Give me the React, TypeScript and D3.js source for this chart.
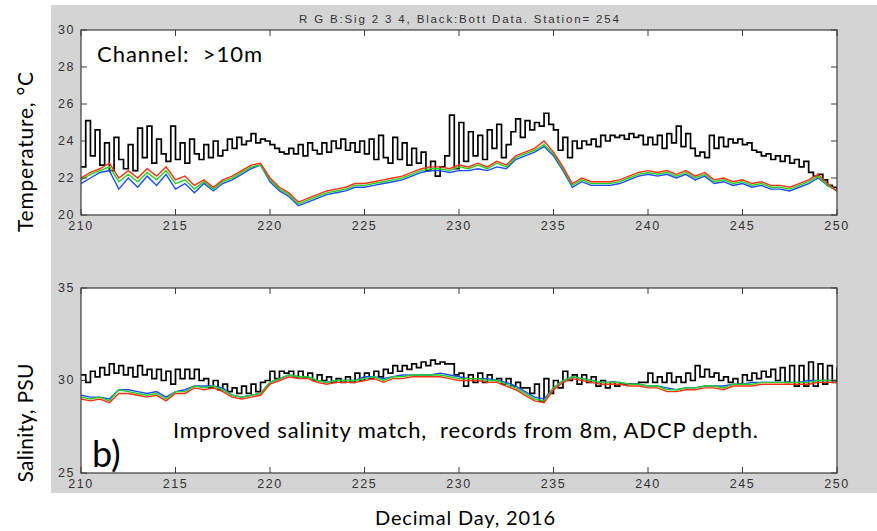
import React from 'react';
import * as d3 from 'd3';

// time axis: samples start at day 210
const START_DAY = 210;
const BLACK_STEP = 0.25; // bottom-data samples
const SIG_STEP = 0.5; // sig 2/3/4 samples

const xTicks = [210, 215, 220, 225, 230, 235, 240, 245, 250];
const tempTicks = [20, 22, 24, 26, 28, 30];
const salTicks = [25, 30, 35];

// Temperature, black (bottom data), 0.25 day
const tempBlack = [
  22.6, 25.1, 23.2, 24.6, 22.7, 23.9, 22.4, 24.2, 23.0, 22.5, 23.8, 22.4, 24.7, 23.1, 24.8, 22.8, 24.1, 23.3, 22.9, 24.8,
  23.0, 23.9, 22.8, 24.1, 23.3, 23.0, 23.8, 23.1, 24.0, 23.2, 23.5, 24.1, 23.6, 24.2, 23.8, 24.0, 24.4, 23.9, 24.1, 24.0,
  23.8, 23.6, 23.4, 23.3, 23.6, 23.3, 23.8, 23.2, 23.9, 23.5, 23.3, 23.9, 23.4, 24.0, 23.6, 24.1, 23.5, 23.9, 23.4, 24.0,
  23.3, 24.1, 23.0, 24.3, 23.1, 22.8, 24.2, 23.0, 23.9, 22.7, 23.6, 22.8, 23.4, 22.4, 22.9, 22.1, 22.6, 23.2, 25.4, 22.5,
  25.0, 22.9, 24.5, 23.2, 24.3, 23.0, 24.6, 23.6, 24.9, 23.1, 23.8, 24.5, 25.2, 24.2, 25.1, 24.6, 25.0, 24.8, 25.5, 24.9,
  24.6, 23.5, 24.2, 23.1, 24.0, 23.6, 24.0, 23.8, 24.1, 23.7, 24.3, 24.0, 24.3, 24.2, 24.3, 24.1, 24.4, 24.2, 24.3, 23.8,
  24.2, 23.8, 24.3, 23.6, 24.4, 23.9, 24.8, 23.7, 24.4, 23.6, 23.2, 23.4, 23.1, 24.3, 23.6, 24.2, 23.7, 24.1, 23.9, 24.1,
  23.8, 23.9, 23.5, 23.4, 23.2, 23.3, 23.0, 23.2, 22.9, 23.2, 22.8, 23.0, 22.6, 22.9, 22.3, 22.1, 22.2, 21.9, 21.6, 21.5,
  21.3,
];

// Temperature, sig 2 (red), 0.5 day
const tempRed = [
  22.0, 22.3, 22.5, 22.8, 22.0, 22.4, 22.0, 22.5, 22.1, 22.6,
  21.9, 22.1, 21.6, 21.9, 21.5, 21.9, 22.1, 22.4, 22.7, 22.8,
  22.0, 21.5, 21.2, 20.7, 20.9, 21.1, 21.3, 21.4, 21.5, 21.7,
  21.7, 21.8, 21.9, 22.0, 22.1, 22.3, 22.5, 22.6, 22.6, 22.5,
  22.7, 22.6, 22.8, 22.6, 22.9, 22.7, 23.2, 23.4, 23.6, 24.0,
  23.4, 22.6, 21.7, 22.0, 21.8, 21.8, 21.8, 21.9, 22.1, 22.3,
  22.4, 22.3, 22.4, 22.2, 22.4, 22.1, 22.3, 21.9, 22.0, 21.8,
  21.9, 21.7, 21.8, 21.6, 21.6, 21.5, 21.7, 21.9, 22.2, 21.7,
  21.3,
];

// Temperature, sig 3 (green)
const tempGreen = [
  21.9, 22.2, 22.4, 22.6, 21.8, 22.2, 21.8, 22.3, 21.9, 22.4,
  21.7, 21.9, 21.4, 21.8, 21.4, 21.8, 22.0, 22.3, 22.6, 22.7,
  21.9, 21.4, 21.1, 20.6, 20.8, 21.0, 21.2, 21.3, 21.4, 21.6,
  21.6, 21.7, 21.8, 21.9, 22.0, 22.2, 22.4, 22.5, 22.5, 22.4,
  22.6, 22.5, 22.7, 22.5, 22.8, 22.6, 23.1, 23.3, 23.5, 23.8,
  23.3, 22.5, 21.6, 21.9, 21.7, 21.7, 21.7, 21.8, 22.0, 22.2,
  22.3, 22.2, 22.3, 22.1, 22.3, 22.0, 22.2, 21.8, 21.9, 21.7,
  21.8, 21.6, 21.7, 21.5, 21.5, 21.4, 21.6, 21.8, 22.1, 21.6,
  21.3,
];

// Temperature, sig 4 (blue)
const tempBlue = [
  21.7, 22.0, 22.3, 22.4, 21.4, 22.0, 21.5, 22.1, 21.6, 22.2,
  21.4, 21.7, 21.2, 21.7, 21.3, 21.7, 21.9, 22.2, 22.5, 22.7,
  21.8, 21.3, 21.0, 20.5, 20.7, 20.9, 21.1, 21.2, 21.3, 21.5,
  21.5, 21.6, 21.7, 21.8, 21.9, 22.1, 22.3, 22.4, 22.4, 22.3,
  22.4, 22.4, 22.5, 22.4, 22.6, 22.5, 23.0, 23.2, 23.4, 23.7,
  23.2, 22.4, 21.5, 21.8, 21.6, 21.6, 21.6, 21.7, 21.9, 22.1,
  22.2, 22.1, 22.2, 22.0, 22.2, 21.9, 22.1, 21.7, 21.8, 21.6,
  21.7, 21.5, 21.6, 21.4, 21.4, 21.3, 21.5, 21.7, 22.0, 21.6,
  21.3,
];

// Salinity, black (bottom data), 0.25 day
const salBlack = [
  30.3, 29.9, 30.5, 30.2, 30.7, 30.3, 30.9, 30.4, 30.8, 30.3, 30.7, 30.2, 30.8, 30.3, 30.6, 30.1, 30.6, 30.0, 30.5, 29.8,
  30.6, 30.1, 30.6, 30.1, 30.6, 30.0, 30.1, 29.6, 30.0, 29.5, 29.8, 29.4, 29.6, 29.3, 29.7, 29.3, 29.8, 29.4, 29.9, 30.0,
  30.5, 30.1, 30.5, 30.4, 30.5, 30.2, 30.5, 30.2, 30.4, 30.0, 30.3, 30.0, 30.2, 29.9, 30.1, 29.9, 30.2, 29.9, 30.4, 30.0,
  30.4, 30.1, 30.5, 30.2, 30.6, 30.4, 30.8, 30.5, 30.8, 30.6, 30.9, 30.7, 31.0, 30.8, 31.1, 30.9, 31.0, 30.9, 30.9, 30.3,
  30.4, 29.7, 30.3, 29.9, 30.4, 29.9, 30.3, 30.0, 30.1, 29.8, 30.1, 29.7, 29.9, 29.6, 29.6, 29.3, 29.8, 28.9, 30.1, 29.3,
  30.0, 29.6, 30.5, 30.0, 30.3, 29.8, 30.3, 29.9, 30.2, 29.7, 30.0, 29.6, 29.9, 29.7, 29.8, 29.8, 29.8, 29.8, 29.9, 29.9,
  30.4, 29.9, 30.2, 29.9, 30.4, 29.9, 30.2, 29.9, 30.4, 30.0, 30.8, 30.2, 30.6, 30.2, 30.4, 30.0, 30.2, 29.9, 30.1, 29.8,
  30.3, 30.0, 30.4, 30.1, 30.5, 30.2, 30.6, 30.0, 30.7, 29.9, 30.8, 29.7, 30.8, 29.7, 31.0, 29.7, 30.9, 29.8, 30.8, 29.9,
  30.7,
];

const salRed = [
  29.0, 28.9, 29.0, 28.8, 29.3, 29.3, 29.2, 29.1, 29.2, 28.9,
  29.3, 29.3, 29.6, 29.5, 29.6, 29.4, 29.1, 29.0, 29.1, 29.2,
  29.8, 30.0, 30.2, 30.1, 30.1, 29.9, 29.8, 29.9, 29.9, 29.9,
  30.0, 30.1, 29.9, 30.1, 30.1, 30.2, 30.2, 30.2, 30.2, 30.1,
  30.0, 30.0, 30.0, 29.9, 29.9, 29.7, 29.5, 29.2, 28.9, 28.8,
  29.5, 29.9, 30.1, 30.0, 29.9, 29.8, 29.8, 29.8, 29.7, 29.7,
  29.6, 29.6, 29.4, 29.4, 29.5, 29.5, 29.6, 29.6, 29.5, 29.7,
  29.7, 29.7, 29.8, 29.8, 29.8, 29.8, 29.8, 29.8, 29.9, 29.9,
  29.9,
];

const salGreen = [
  29.1, 29.0, 29.1, 28.9, 29.5, 29.4, 29.3, 29.2, 29.3, 29.0,
  29.4, 29.4, 29.7, 29.6, 29.7, 29.5, 29.2, 29.1, 29.2, 29.3,
  29.9, 30.1, 30.3, 30.2, 30.2, 30.0, 29.9, 30.0, 30.0, 30.0,
  30.1, 30.2, 30.0, 30.2, 30.2, 30.3, 30.3, 30.3, 30.3, 30.2,
  30.1, 30.1, 30.1, 30.0, 30.0, 29.8, 29.6, 29.3, 29.0, 28.9,
  29.6, 30.0, 30.2, 30.1, 30.0, 29.9, 29.9, 29.9, 29.8, 29.8,
  29.7, 29.7, 29.5, 29.5, 29.6, 29.6, 29.7, 29.7, 29.6, 29.8,
  29.8, 29.8, 29.9, 29.9, 29.9, 29.9, 29.9, 29.9, 30.0, 30.0,
  30.0,
];

const salBlue = [
  29.2, 29.1, 29.1, 29.0, 29.5, 29.5, 29.4, 29.3, 29.4, 29.1,
  29.4, 29.5, 29.7, 29.7, 29.7, 29.6, 29.2, 29.1, 29.2, 29.3,
  29.9, 30.1, 30.3, 30.2, 30.2, 30.0, 29.9, 30.0, 30.0, 30.0,
  30.2, 30.2, 30.1, 30.2, 30.3, 30.3, 30.3, 30.3, 30.4, 30.3,
  30.2, 30.1, 30.1, 30.1, 30.0, 29.9, 29.7, 29.4, 29.1, 29.0,
  29.6, 30.0, 30.2, 30.1, 30.0, 29.9, 29.9, 29.9, 29.8, 29.8,
  29.7, 29.7, 29.6, 29.5, 29.6, 29.6, 29.7, 29.7, 29.7, 29.8,
  29.8, 29.9, 29.9, 29.9, 29.9, 29.9, 29.9, 30.0, 30.0, 30.0,
  30.0,
];

const W = 877;
const H = 531;
const plotLeft = 81;
const plotRight = 837;
const tickFont = '"Liberation Sans", Arial, sans-serif';
const labelFont = 'Lato, "Open Sans", sans-serif';
const axisColor = '#3c3c3c';

const x = d3.scaleLinear().domain([210, 250]).range([plotLeft, plotRight]);

type Series = { values: number[]; step: number; color: string; width: number; stairs: boolean };

function Panel({ top, bottom, domain, ticks, series }: {
  top: number; bottom: number; domain: [number, number]; ticks: number[]; series: Series[];
}) {
  const y = d3.scaleLinear().domain(domain).range([bottom, top]);
  const clipId = `clip-${top}`;
  return (
    <g>
      <defs>
        <clipPath id={clipId}>
          <rect x={plotLeft} y={top} width={plotRight - plotLeft} height={bottom - top} />
        </clipPath>
      </defs>
      <rect x={plotLeft} y={top} width={plotRight - plotLeft} height={bottom - top} fill="#fff" />
      <g clipPath={`url(#${clipId})`}>
        {series.map((s, i) => {
          const line = d3.line<number>()
            .x((_, j) => x(START_DAY + j * s.step))
            .y(v => y(v))
            .curve(s.stairs ? d3.curveStepAfter : d3.curveLinear);
          return <path key={i} d={line(s.values) || ''} fill="none" stroke={s.color} strokeWidth={s.width} />;
        })}
      </g>
      {/* frame */}
      <rect x={plotLeft} y={top} width={plotRight - plotLeft} height={bottom - top} fill="none" stroke={axisColor} strokeWidth={1.2} />
      {/* x ticks, inward top and bottom */}
      {xTicks.map(t => (
        <g key={`x${t}`}>
          <line x1={x(t)} x2={x(t)} y1={bottom} y2={bottom - 6} stroke={axisColor} />
          <line x1={x(t)} x2={x(t)} y1={top} y2={top + 6} stroke={axisColor} />
          <text x={x(t)} y={bottom + 15} textAnchor="middle" fontFamily={tickFont} fontSize={12.5}
            letterSpacing={1.6} fill="#333">{t}</text>
        </g>
      ))}
      {ticks.map(t => (
        <g key={`y${t}`}>
          <line x1={plotLeft} x2={plotLeft + 6} y1={y(t)} y2={y(t)} stroke={axisColor} />
          <line x1={plotRight} x2={plotRight - 6} y1={y(t)} y2={y(t)} stroke={axisColor} />
          <text x={plotLeft - 6} y={y(t) + 3.5} textAnchor="end" fontFamily={tickFont} fontSize={12.5}
            letterSpacing={1.6} fill="#333">{t}</text>
        </g>
      ))}
    </g>
  );
}

export default function App() {
  const tempSeries: Series[] = [
    { values: tempBlack, step: BLACK_STEP, color: '#000', width: 1.7, stairs: true },
    { values: tempBlue, step: SIG_STEP, color: '#1a4cff', width: 1.4, stairs: false },
    { values: tempGreen, step: SIG_STEP, color: '#22d422', width: 1.4, stairs: false },
    { values: tempRed, step: SIG_STEP, color: '#ff3010', width: 1.4, stairs: false },
  ];
  const salSeries: Series[] = [
    { values: salBlack, step: BLACK_STEP, color: '#000', width: 1.7, stairs: true },
    { values: salBlue, step: SIG_STEP, color: '#1a4cff', width: 1.4, stairs: false },
    { values: salGreen, step: SIG_STEP, color: '#22d422', width: 1.4, stairs: false },
    { values: salRed, step: SIG_STEP, color: '#ff3010', width: 1.4, stairs: false },
  ];

  return (
    <svg width={W} height={H} viewBox={`0 0 ${W} ${H}`}
      style={{ position: 'absolute', left: 0, top: 0, background: '#fff' }}>
      <rect x={51} y={5} width={W - 51} height={488} fill="#d4d4d4" />
      <text x={459} y={23} textAnchor="middle" fontFamily={tickFont} fontSize={11.5} fill="#333"
        textLength={320} lengthAdjust="spacing">R G B:Sig 2 3 4, Black:Bott Data. Station= 254</text>

      <Panel top={30} bottom={215} domain={[20, 30]} ticks={tempTicks} series={tempSeries} />
      <Panel top={288} bottom={473} domain={[25, 35]} ticks={salTicks} series={salSeries} />

      <text x={97} y={62} fontFamily={labelFont} fontSize={22} fill="#000" textLength={165} lengthAdjust="spacing">
        {'Channel:\u00a0 >10m'}
      </text>
      <text x={173} y={438} fontFamily={labelFont} fontSize={22} fill="#000" textLength={585} lengthAdjust="spacing">
        {'Improved salinity match,\u00a0 records from 8m, ADCP depth.'}
      </text>
      <text x={92} y={467} fontFamily={labelFont} fontSize={36} fill="#000">b)</text>

      <text transform="translate(33,152) rotate(-90)" textAnchor="middle" fontFamily={labelFont} fontSize={21}
        fill="#000" textLength={160} lengthAdjust="spacing">Temperature, °C</text>
      <text transform="translate(33,423) rotate(-90)" textAnchor="middle" fontFamily={labelFont} fontSize={21}
        fill="#000" textLength={119} lengthAdjust="spacing">Salinity, PSU</text>
      <text x={465} y={525} textAnchor="middle" fontFamily={labelFont} fontSize={20} fill="#000"
        textLength={180} lengthAdjust="spacing">Decimal Day, 2016</text>
    </svg>
  );
}
